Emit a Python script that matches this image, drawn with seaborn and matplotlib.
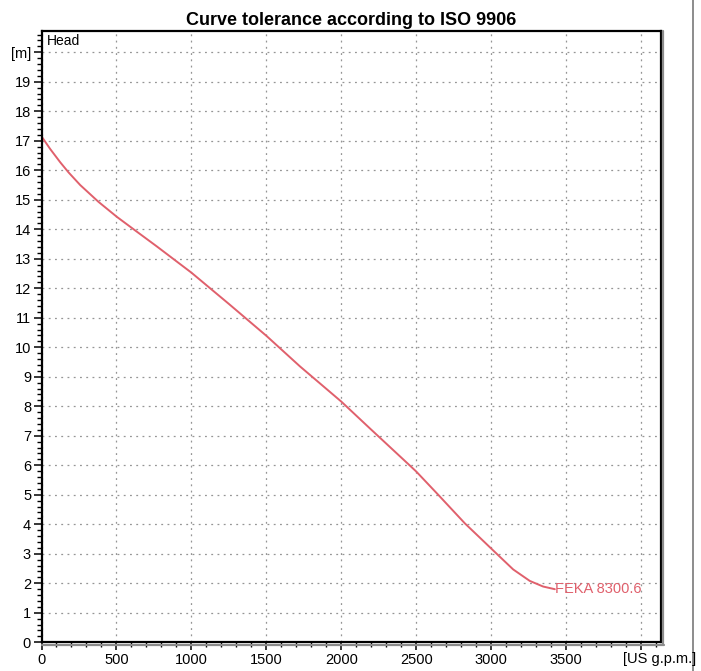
import matplotlib
matplotlib.use("Agg")
import matplotlib.pyplot as plt
from matplotlib.lines import Line2D
from matplotlib.ticker import MultipleLocator, FixedLocator, FixedFormatter
import seaborn as sns
import pandas as pd

# Data
flow_gpm = [0, 58, 125, 180, 258, 380, 503, 625, 769, 1000, 1250, 1500, 1725, 2000,
            2191, 2458, 2500, 2647, 2825, 2924, 3000, 3147, 3258, 3347, 3425]
head_m = [17.15, 16.72, 16.27, 15.93, 15.50, 14.93, 14.42, 13.96, 13.42, 12.53, 11.47, 10.39, 9.35, 8.16,
          7.25, 5.99, 5.79, 5.0, 4.03, 3.55, 3.18, 2.47, 2.08, 1.89, 1.80]
curve_name = "FEKA 8300.6"
x_ticks = [0, 500, 1000, 1500, 2000, 2500, 3000, 3500, 4000]
x_labels = ["0", "500", "1000", "1500", "2000", "2500", "3000", "3500", ""]
y_ticks = list(range(0, 21))
y_labels = [str(v) for v in range(0, 20)] + ["[m]"]

sns.set_theme(style="white")
plt.rcParams['font.family'] = ['Liberation Sans', 'DejaVu Sans']
plt.rcParams['text.color'] = 'black'

W, H = 701, 671
fig = plt.figure(figsize=(W / 100, H / 100), dpi=100)
L, R, B, T = 41.5, 660.5, 642.3, 31
ax = fig.add_axes([L / W, (H - B) / H, (R - L) / W, (B - T) / H])

df = pd.DataFrame({"flow": flow_gpm, "head": head_m})
color = "#e0606c"
sns.lineplot(data=df, x="flow", y="head", ax=ax, color=color, lw=1.4)

ax.set_xlim(0, 4130)
ax.set_ylim(0, 20.72)
ax.xaxis.set_major_locator(FixedLocator(x_ticks))
ax.xaxis.set_major_formatter(FixedFormatter(x_labels))
ax.xaxis.set_minor_locator(MultipleLocator(100))
ax.yaxis.set_major_locator(FixedLocator(y_ticks))
ax.yaxis.set_major_formatter(FixedFormatter(y_labels))
ax.yaxis.set_minor_locator(MultipleLocator(0.2))
ax.set_xlabel("")
ax.set_ylabel("")

ax.tick_params(axis="both", which="major", direction="out", length=6, width=1.1,
               color="black", labelsize=10.5, labelcolor="black", pad=1.5)
ax.tick_params(axis="both", which="minor", direction="out", length=3.8, width=1.0, color="black")
ax.tick_params(axis="x", which="both", bottom=True)
ax.tick_params(axis="y", which="both", left=True)

ax.grid(True, which="major", color="#959595", linestyle=(0, (1.5, 3.5)), linewidth=0.9)
for s in ax.spines.values():
    s.set_color("black")
    s.set_linewidth(1.6)
    s.set_visible(True)

# shadow lines on right and bottom
fig.add_artist(Line2D([(R + 2.2) / W] * 2, [(H - B - 2) / H, (H - T) / H], color="#8c8c8c", lw=1.6))
fig.add_artist(Line2D([L / W, (R + 3) / W], [(H - B - 2.2) / H] * 2, color="#8c8c8c", lw=1.6))
# right frame line
fig.add_artist(Line2D([693 / W] * 2, [0, 1], color="#8c8c8c", lw=1.4))

ax.set_title("Curve tolerance according to ISO 9906", fontsize=13, fontweight="bold", pad=4, color="black")
ax.text(0.008, 0.995, "Head", transform=ax.transAxes, ha="left", va="top", fontsize=10, color="black")
fig.text(623 / W, (H - 659) / H, "[US g.p.m.]", ha="left", va="center", fontsize=10.5, color="black")
ax.text(flow_gpm[-1], head_m[-1], curve_name, ha="left", va="center", fontsize=10.5, color=color)

fig.savefig("out.png", dpi=100, facecolor="white")
